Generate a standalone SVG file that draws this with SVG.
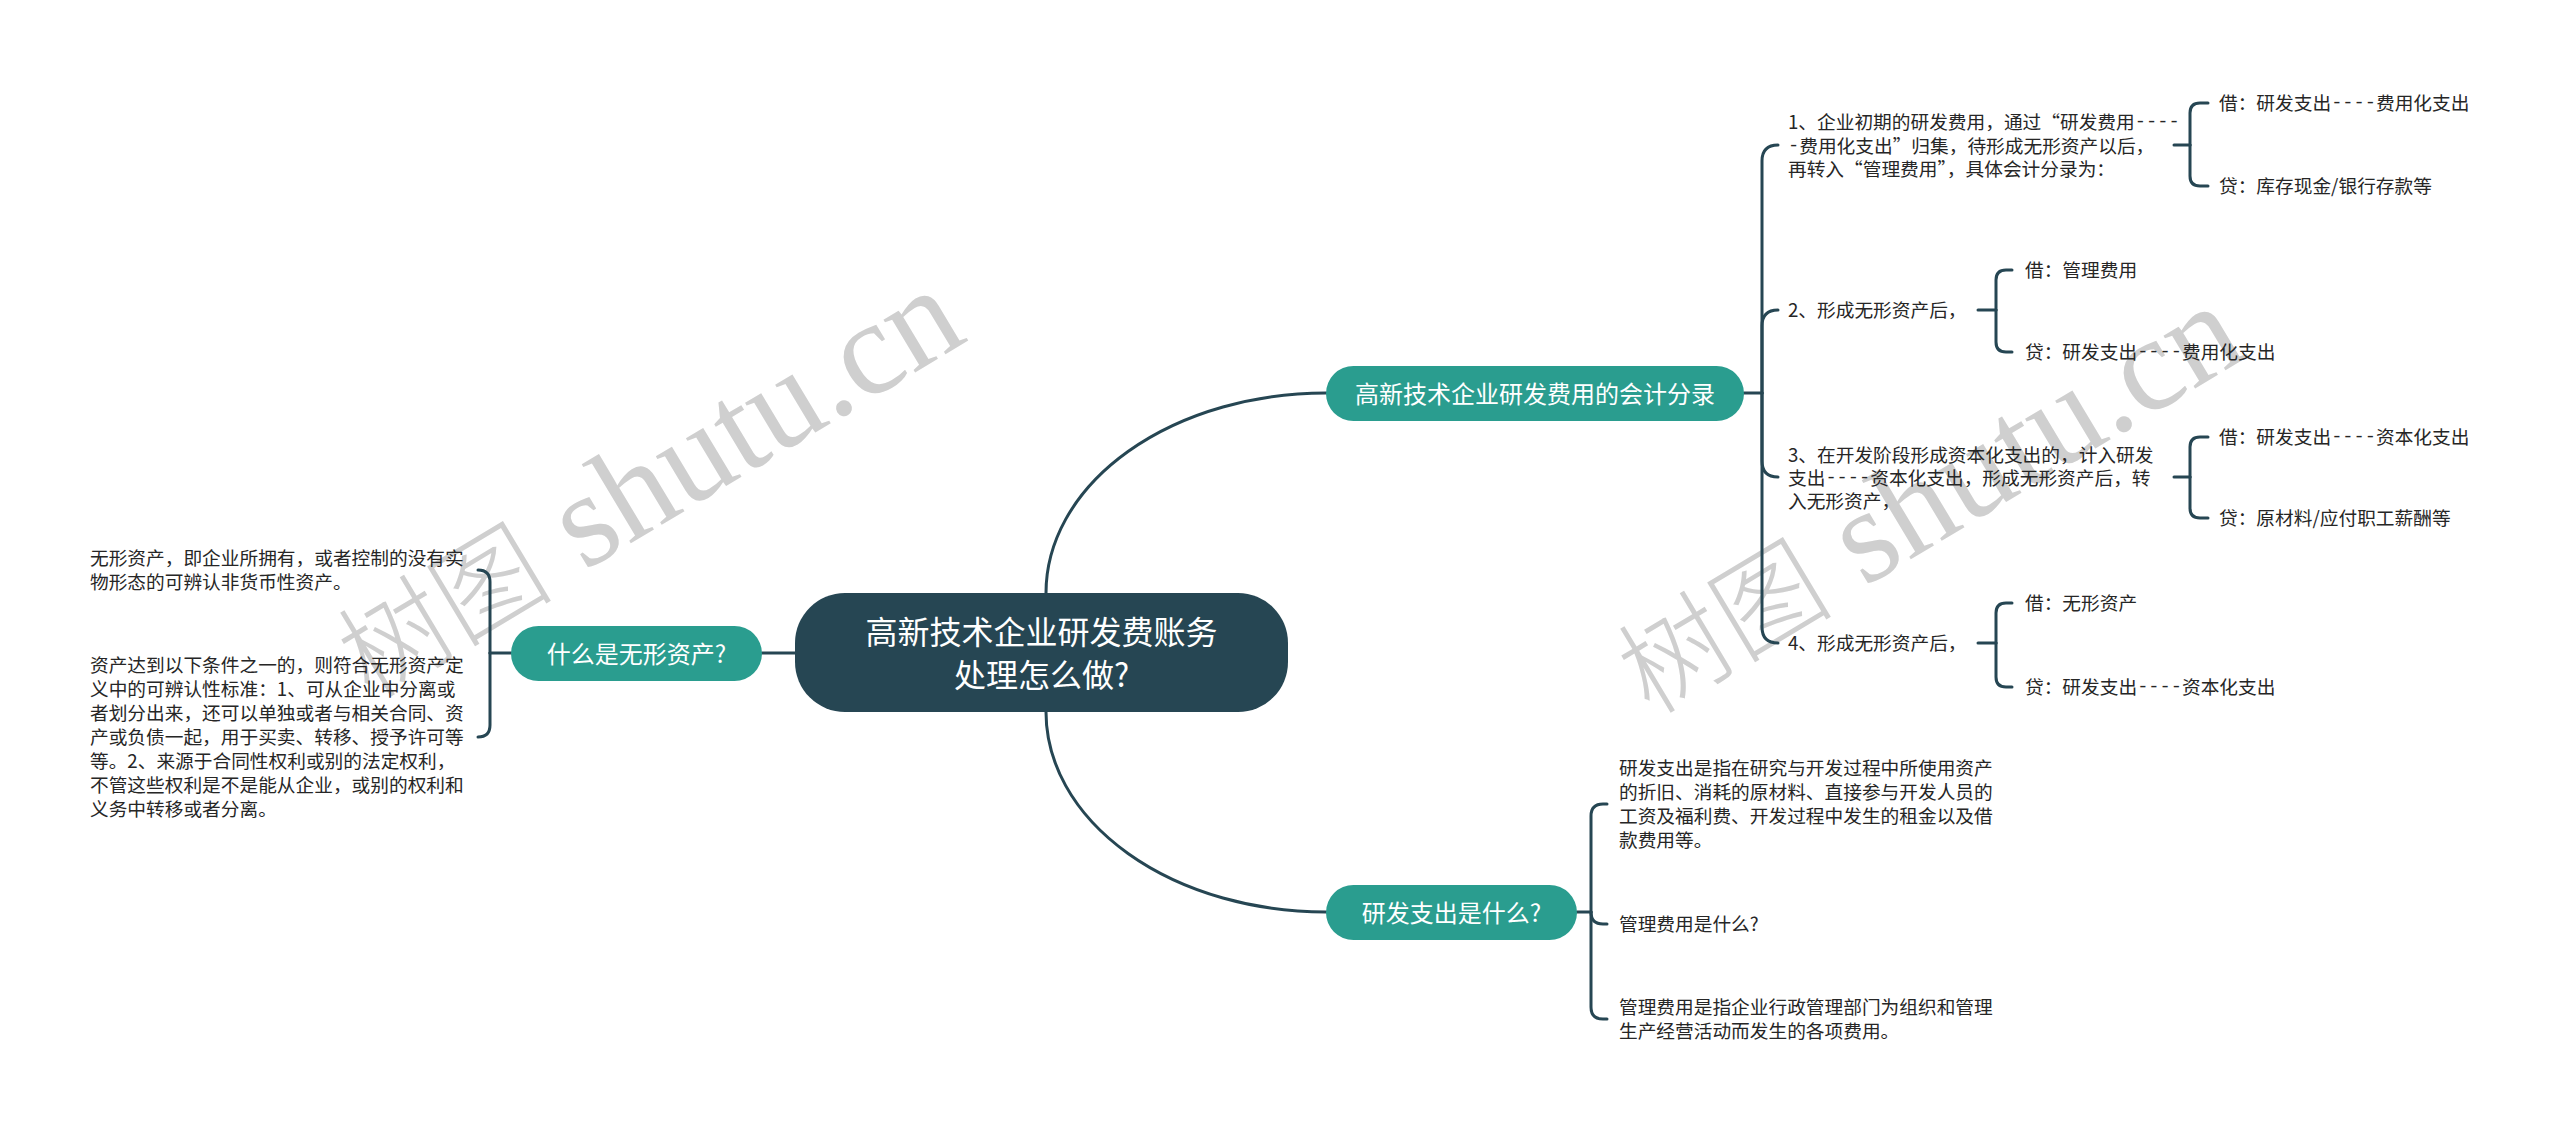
<svg xmlns="http://www.w3.org/2000/svg" width="2560" height="1134" viewBox="0 0 2560 1134">
<style>
.wm{fill:#cfcfcf}
.wmc{font-family:"Noto Sans CJK SC",sans-serif;font-size:108px;font-weight:300}
.wml{font-family:"Liberation Serif",serif;font-size:134px}
.conn path{fill:none;stroke:#264653;stroke-width:3;stroke-linecap:round}
.root rect{fill:#264653}
.main rect{fill:#2a9d8f}
.rt{font-family:"Noto Sans CJK SC",sans-serif;font-size:32px;fill:#ffffff;text-anchor:middle}
.mt{font-family:"Noto Sans CJK SC",sans-serif;font-size:24px;fill:#ffffff;text-anchor:middle}
.lt{font-family:"Noto Sans CJK SC",sans-serif;font-size:18.7px;fill:#262626}
.d{font-family:"Liberation Mono",monospace;font-size:18.7px;baseline-shift:2px}
</style>
<rect width="2560" height="1134" fill="#ffffff"/>
<g id="watermarks">
<text class="wm" transform="translate(370,700) rotate(-31)"><tspan class="wmc">树图</tspan><tspan class="wml"> shutu.cn</tspan></text>
<text class="wm" transform="translate(1650,716) rotate(-31)"><tspan class="wmc">树图</tspan><tspan class="wml"> shutu.cn</tspan></text>
</g>
<g id="connectors" class="conn">
<path d="M1046 593 A280 200 0 0 1 1326 393"/>
<path d="M1046 712 A280 200 0 0 0 1326 912"/>
<path d="M795 653 L762 653"/>
<path d="M1744 393 L1762 393"/>
<path d="M1762 393 L1762 161 Q1762 145 1778 145"/>
<path d="M1762 393 L1762 326 Q1762 310 1778 310"/>
<path d="M1762 393 L1762 461 Q1762 477 1778 477"/>
<path d="M1762 393 L1762 627 Q1762 643 1778 643"/>
<path d="M2174 145 L2190 145"/>
<path d="M2190 145 L2190 113 Q2190 103 2200 103 L2208 103"/>
<path d="M2190 145 L2190 176 Q2190 186 2200 186 L2208 186"/>
<path d="M1978 310 L1996 310"/>
<path d="M1996 310 L1996 280 Q1996 270 2006 270 L2012 270"/>
<path d="M1996 310 L1996 342 Q1996 352 2006 352 L2012 352"/>
<path d="M2174 477 L2190 477"/>
<path d="M2190 477 L2190 447 Q2190 437 2200 437 L2208 437"/>
<path d="M2190 477 L2190 508 Q2190 518 2200 518 L2208 518"/>
<path d="M1978 643 L1996 643"/>
<path d="M1996 643 L1996 613 Q1996 603 2006 603 L2012 603"/>
<path d="M1996 643 L1996 677 Q1996 687 2006 687 L2012 687"/>
<path d="M1577 912 L1591 912"/>
<path d="M1591 912 L1591 816 Q1591 804 1603 804 L1607 804"/>
<path d="M1591 912 Q1591 924 1603 924 L1607 924"/>
<path d="M1591 912 L1591 1007 Q1591 1019 1603 1019 L1607 1019"/>
<path d="M511 653 L490 653"/>
<path d="M490 653 L490 582 Q490 570 478 570"/>
<path d="M490 653 L490 725 Q490 737 478 737"/>
</g>
<g id="root" class="root">
<rect x="795" y="593" width="493" height="119" rx="50"/>
<text class="rt" x="1041.5" y="644">高新技术企业研发费账务</text>
<text class="rt" x="1041.5" y="687">处理怎么做?</text>
</g>
<g id="node-accounting" class="main">
<rect x="1326" y="366" width="418" height="55" rx="27.5"/>
<text class="mt" x="1535" y="402.5">高新技术企业研发费用的会计分录</text>
</g>
<g id="node-rd" class="main">
<rect x="1326" y="885" width="251" height="55" rx="27.5"/>
<text class="mt" x="1451.5" y="921.5">研发支出是什么?</text>
</g>
<g id="node-intangible" class="main">
<rect x="511" y="626" width="251" height="55" rx="27.5"/>
<text class="mt" x="636.5" y="662.5">什么是无形资产?</text>
</g>
<g id="item1">
<text class="lt" x="1788" y="129">1、企业初期的研发费用，通过“研发费用<tspan class="d">----</tspan></text>
<text class="lt" x="1788" y="153"><tspan class="d">-</tspan>费用化支出”归集，待形成无形资产以后，</text>
<text class="lt" x="1788" y="176">再转入“管理费用”，具体会计分录为：</text>
</g>
<g id="item1-debit"><text class="lt" x="2219" y="110">借：研发支出<tspan class="d">----</tspan>费用化支出</text></g>
<g id="item1-credit"><text class="lt" x="2219" y="193">贷：库存现金/银行存款等</text></g>
<g id="item2"><text class="lt" x="1788" y="317">2、形成无形资产后，</text></g>
<g id="item2-debit"><text class="lt" x="2025" y="277">借：管理费用</text></g>
<g id="item2-credit"><text class="lt" x="2025" y="359">贷：研发支出<tspan class="d">----</tspan>费用化支出</text></g>
<g id="item3">
<text class="lt" x="1788" y="462">3、在开发阶段形成资本化支出的，计入研发</text>
<text class="lt" x="1788" y="485">支出<tspan class="d">----</tspan>资本化支出，形成无形资产后，转</text>
<text class="lt" x="1788" y="508">入无形资产，</text>
</g>
<g id="item3-debit"><text class="lt" x="2219" y="444">借：研发支出<tspan class="d">----</tspan>资本化支出</text></g>
<g id="item3-credit"><text class="lt" x="2219" y="525">贷：原材料/应付职工薪酬等</text></g>
<g id="item4"><text class="lt" x="1788" y="650">4、形成无形资产后，</text></g>
<g id="item4-debit"><text class="lt" x="2025" y="610">借：无形资产</text></g>
<g id="item4-credit"><text class="lt" x="2025" y="694">贷：研发支出<tspan class="d">----</tspan>资本化支出</text></g>
<g id="rd-def">
<text class="lt" x="1619" y="775">研发支出是指在研究与开发过程中所使用资产</text>
<text class="lt" x="1619" y="799">的折旧、消耗的原材料、直接参与开发人员的</text>
<text class="lt" x="1619" y="823">工资及福利费、开发过程中发生的租金以及借</text>
<text class="lt" x="1619" y="847">款费用等。</text>
</g>
<g id="mgmt-q"><text class="lt" x="1619" y="931">管理费用是什么?</text></g>
<g id="mgmt-def">
<text class="lt" x="1619" y="1014">管理费用是指企业行政管理部门为组织和管理</text>
<text class="lt" x="1619" y="1038">生产经营活动而发生的各项费用。</text>
</g>
<g id="intangible-def">
<text class="lt" x="90" y="565">无形资产，即企业所拥有，或者控制的没有实</text>
<text class="lt" x="90" y="589">物形态的可辨认非货币性资产。</text>
</g>
<g id="intangible-cond">
<text class="lt" x="90" y="672">资产达到以下条件之一的，则符合无形资产定</text>
<text class="lt" x="90" y="696">义中的可辨认性标准：1、可从企业中分离或</text>
<text class="lt" x="90" y="720">者划分出来，还可以单独或者与相关合同、资</text>
<text class="lt" x="90" y="744">产或负债一起，用于买卖、转移、授予许可等</text>
<text class="lt" x="90" y="768">等。2、来源于合同性权利或别的法定权利，</text>
<text class="lt" x="90" y="792">不管这些权利是不是能从企业，或别的权利和</text>
<text class="lt" x="90" y="816">义务中转移或者分离。</text>
</g>
</svg>
